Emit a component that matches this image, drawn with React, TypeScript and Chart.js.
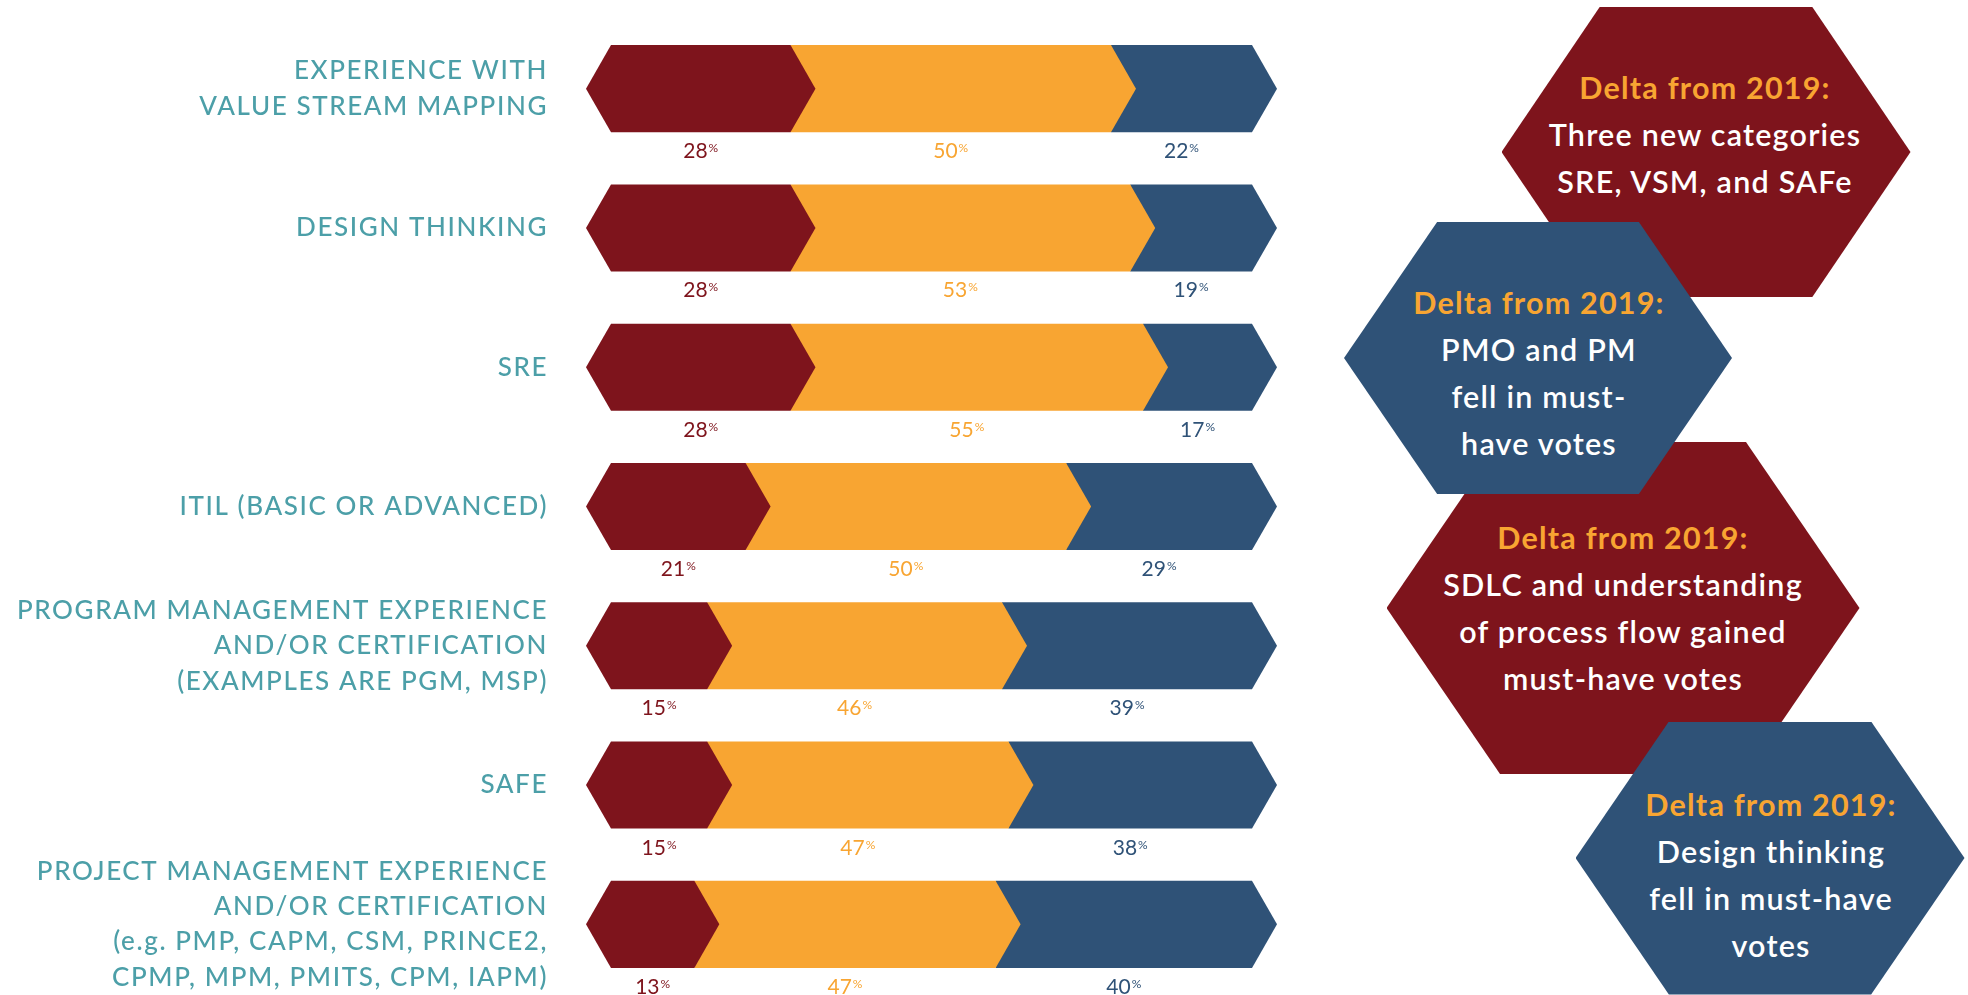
import React, { useEffect, useRef } from 'react';
import { Chart, registerables } from 'chart.js';

Chart.register(...registerables);

// ---------- data ----------
const categories: string[][] = [
  ['EXPERIENCE WITH', 'VALUE STREAM MAPPING'],
  ['DESIGN THINKING'],
  ['SRE'],
  ['ITIL (BASIC OR ADVANCED)'],
  ['PROGRAM MANAGEMENT EXPERIENCE', 'AND/OR CERTIFICATION', '(EXAMPLES ARE PGM, MSP)'],
  ['SAFE'],
  ['PROJECT MANAGEMENT EXPERIENCE', 'AND/OR CERTIFICATION', '(e.g. PMP, CAPM, CSM, PRINCE2,', 'CPMP, MPM, PMITS, CPM, IAPM)'],
];
const seriesNames = ['Must have', 'Nice to have', 'Optional'];
const mustHave = [28, 28, 28, 21, 15, 15, 13];
const niceToHave = [50, 53, 55, 50, 46, 47, 47];
const optional = [22, 19, 17, 29, 39, 38, 40];

const callouts: { color: 'red' | 'blue'; lines: string[] }[] = [
  { color: 'red', lines: ['Three new categories', 'SRE, VSM, and SAFe'] },
  { color: 'blue', lines: ['PMO and PM', 'fell in must-', 'have votes'] },
  { color: 'red', lines: ['SDLC and understanding', 'of process flow gained', 'must-have votes'] },
  { color: 'blue', lines: ['Design thinking', 'fell in must-have', 'votes'] },
];
const calloutHeading = 'Delta from 2019:';

// ---------- styles ----------
const RED = '#7e141c';
const ORANGE = '#f8a532';
const BLUE = '#2f5277';
const TEAL = '#4c9fa8';
const FONT = 'Lato, "Open Sans", sans-serif';
const POINT = 25;

const chevronPlugin = {
  id: 'chevronBars',
  beforeDraw(chart: any) {
    chart.ctx.letterSpacing = '1.6px';
  },
  beforeDatasetsDraw(chart: any) {
    chart.ctx.letterSpacing = '0px';
  },
  beforeDatasetDraw() {
    return false;
  },
  afterDatasetsDraw(chart: any) {
    const ctx = chart.ctx as CanvasRenderingContext2D;
    const n = chart.data.datasets.length;
    ctx.save();
    (ctx as any).letterSpacing = '0px';
    for (let di = n - 1; di >= 0; di--) {
      const meta = chart.getDatasetMeta(di);
      const color = chart.data.datasets[di].backgroundColor as string;
      meta.data.forEach((el: any) => {
        const { x, y, base, height } = el.getProps(['x', 'y', 'base', 'height'], true);
        const top = y - height / 2;
        const bot = y + height / 2;
        ctx.beginPath();
        ctx.moveTo(base, top);
        ctx.lineTo(x, top);
        ctx.lineTo(x + POINT, y);
        ctx.lineTo(x, bot);
        ctx.lineTo(base, bot);
        if (di === 0) ctx.lineTo(base - POINT, y);
        ctx.closePath();
        ctx.fillStyle = color;
        ctx.fill();
      });
    }
    // percentage labels
    for (let di = 0; di < n; di++) {
      const meta = chart.getDatasetMeta(di);
      const ds = chart.data.datasets[di];
      meta.data.forEach((el: any, i: number) => {
        const { x, y, base, height } = el.getProps(['x', 'y', 'base', 'height'], true);
        const cx = (x + base) / 2;
        const baseline = y + height / 2 + 26;
        const num = String(ds.data[i]);
        ctx.font = `21px ${FONT}`;
        const wNum = ctx.measureText(num).width;
        ctx.font = `12px ${FONT}`;
        const wPct = ctx.measureText('%').width;
        const start = cx - (wNum + wPct + 1) / 2;
        ctx.fillStyle = ds.backgroundColor as string;
        ctx.textAlign = 'left';
        ctx.textBaseline = 'alphabetic';
        ctx.font = `21px ${FONT}`;
        ctx.fillText(num, start, baseline);
        ctx.font = `12px ${FONT}`;
        ctx.fillText('%', start + wNum + 1, baseline - 6);
      });
    }
    ctx.restore();
  },
};

function Hex({ cx, cy, w, h, color, z }: { cx: number; cy: number; w: number; h: number; color: string; z: number }) {
  const a = w * 0.24;
  return (
    <div
      style={{
        position: 'absolute',
        left: cx - w / 2,
        top: cy - h / 2,
        width: w,
        height: h,
        background: color,
        zIndex: z,
        clipPath: `polygon(${a}px 0px, ${w - a}px 0px, ${w}px 50%, ${w - a}px 100%, ${a}px 100%, 0px 50%)`,
      }}
    />
  );
}

function CalloutText({ cx, cy, lines, z }: { cx: number; cy: number; lines: string[]; z: number }) {
  return (
    <div
      style={{
        position: 'absolute',
        left: cx,
        top: cy,
        transform: 'translate(-50%, -50%)',
        zIndex: z,
        textAlign: 'center',
        fontFamily: FONT,
        fontSize: 30.5,
        lineHeight: '47px',
        letterSpacing: '1.2px',
        whiteSpace: 'nowrap',
      }}
    >
      <div style={{ color: ORANGE, fontWeight: 700 }}>{calloutHeading}</div>
      {lines.map((l, i) => (
        <div key={i} style={{ color: '#ffffff', fontWeight: 600 }}>
          {l}
        </div>
      ))}
    </div>
  );
}

export default function App() {
  const canvasRef = useRef<HTMLCanvasElement | null>(null);

  useEffect(() => {
    document.body.style.margin = '0';
    document.documentElement.style.overflow = 'hidden';
    const canvas = canvasRef.current;
    if (!canvas) return;
    const chart = new Chart(canvas, {
      type: 'bar',
      data: {
        labels: categories,
        datasets: [
          { label: seriesNames[0], data: mustHave, backgroundColor: RED },
          { label: seriesNames[1], data: niceToHave, backgroundColor: ORANGE },
          { label: seriesNames[2], data: optional, backgroundColor: BLUE },
        ],
      },
      options: {
        indexAxis: 'y',
        animation: false,
        responsive: true,
        maintainAspectRatio: false,
        datasets: { bar: { categoryPercentage: 1, barPercentage: 0.625 } },
        layout: { padding: { top: 19, bottom: 1, left: 0, right: 48 } },
        plugins: { legend: { display: false }, tooltip: { enabled: false } },
        scales: {
          x: { stacked: true, display: false, min: 0, max: 100 },
          y: {
            stacked: true,
            grid: { display: false, drawTicks: false },
            border: { display: false },
            ticks: {
              autoSkip: false,
              padding: 63,
              color: TEAL,
              font: { family: FONT, size: 26, weight: 500, lineHeight: 1.36 },
            },
            afterFit: (scale: any) => {
              scale.width = 611;
              scale.paddingTop = 0;
              scale.paddingBottom = 0;
            },
          },
        },
      },
      plugins: [chevronPlugin],
    } as any);
    return () => chart.destroy();
  }, []);

  return (
    <div style={{ position: 'absolute', left: 0, top: 0, width: 1968, height: 995, overflow: 'hidden', background: '#fff' }}>
      <div style={{ position: 'absolute', left: 0, top: 0, width: 1300, height: 995 }}>
        <canvas ref={canvasRef} />
      </div>
      <Hex cx={1706} cy={152} w={409} h={290} color={RED} z={1} />
      <CalloutText cx={1705} cy={134} lines={callouts[0].lines} z={1} />
      <Hex cx={1623} cy={608} w={473} h={332} color={RED} z={2} />
      <CalloutText cx={1623} cy={608} lines={callouts[2].lines} z={2} />
      <Hex cx={1538} cy={358} w={388} h={272} color={BLUE} z={3} />
      <CalloutText cx={1539} cy={373} lines={callouts[1].lines} z={3} />
      <Hex cx={1770} cy={858} w={389} h={273} color={BLUE} z={4} />
      <CalloutText cx={1771} cy={875} lines={callouts[3].lines} z={4} />
    </div>
  );
}
